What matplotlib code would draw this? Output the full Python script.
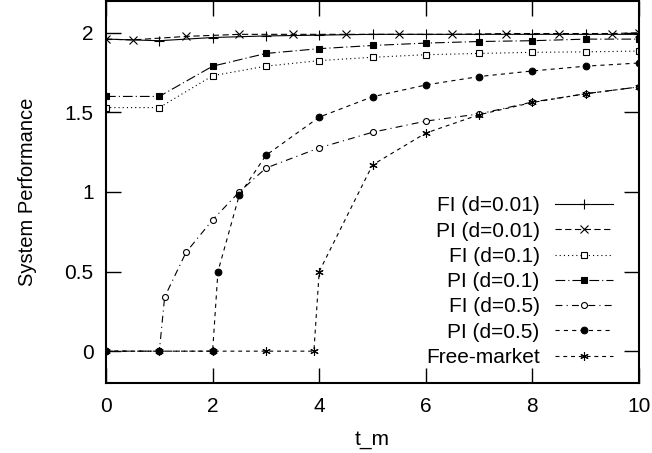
import matplotlib
matplotlib.use("Agg")
import matplotlib.pyplot as plt
from matplotlib.ticker import FormatStrFormatter

plt.rcParams["font.family"] = ["Liberation Sans", "DejaVu Sans"]
plt.rcParams["font.size"] = 15
plt.rcParams["lines.scale_dashes"] = False

# data
fi_001_x = [0, 1, 2, 3, 4, 5, 6, 7, 8, 9, 10]
fi_001_y = [1.96, 1.95, 1.97, 1.98, 1.985, 1.99, 1.99, 1.99, 1.99, 1.99, 1.99]

pi_001_x = [0, 0.5, 1.5, 2.5, 3.5, 4.5, 5.5, 6.5, 7.5, 8.5, 9.5, 10]
pi_001_y = [1.96, 1.955, 1.977, 1.99, 1.99, 1.99, 1.99, 1.99, 1.995, 1.995, 1.995, 2.0]

fi_01_x = [0, 1, 2, 3, 4, 5, 6, 7, 8, 9, 10]
fi_01_y = [1.53, 1.53, 1.73, 1.79, 1.825, 1.846, 1.862, 1.87, 1.877, 1.88, 1.885]

pi_01_x = [0, 1, 2, 3, 4, 5, 6, 7, 8, 9, 10]
pi_01_y = [1.60, 1.60, 1.79, 1.87, 1.90, 1.92, 1.935, 1.945, 1.95, 1.96, 1.96]

fi_05_x = [0, 1, 1.1, 1.5, 2, 2.5, 3, 4, 5, 6, 7, 8, 9, 10]
fi_05_y = [0, 0, 0.34, 0.62, 0.825, 1.0, 1.15, 1.277, 1.375, 1.445, 1.49, 1.565, 1.617, 1.66]

pi_05_x = [0, 1, 2, 2.1, 2.5, 3, 4, 5, 6, 7, 8, 9, 10]
pi_05_y = [0, 0, 0, 0.5, 0.98, 1.23, 1.47, 1.598, 1.672, 1.725, 1.76, 1.79, 1.81]

free_x = [0, 1, 2, 3, 3.9, 4, 5, 6, 7, 8, 9, 10]
free_y = [0, 0, 0, 0, 0, 0.5, 1.17, 1.37, 1.485, 1.562, 1.617, 1.66]

x_ticks = [0, 2, 4, 6, 8, 10]
y_ticks = [0, 0.5, 1, 1.5, 2]

series = [
    ("FI (d=0.01)", fi_001_x, fi_001_y, "-", "+", "none", 7),
    ("PI (d=0.01)", pi_001_x, pi_001_y, (0, (4.5, 2.5)), "x", "none", 5.5),
    ("FI (d=0.1)", fi_01_x, fi_01_y, (0, (0.8, 2.2)), "s", "white", 4.8),
    ("PI (d=0.1)", pi_01_x, pi_01_y, (0, (7, 2.2, 0.8, 2.2)), "s", "black", 5),
    ("FI (d=0.5)", fi_05_x, fi_05_y, (0, (5, 3, 0.8, 3)), "o", "white", 4.3),
    ("PI (d=0.5)", pi_05_x, pi_05_y, (0, (3, 3)), "o", "black", 4.8),
    ("Free-market", free_x, free_y, (0, (2.8, 2.8)), (6, 2, 0), "none", 6),
]

fig = plt.figure(figsize=(6.52, 4.53), dpi=100)
ax = fig.add_axes([0.1626, 0.1545, 0.8175, 0.8435])

for label, xs, ys, ls, mk, mfc, ms in series:
    ax.plot(xs, ys, color="black", linewidth=0.8, linestyle=ls, marker=mk,
            markerfacecolor=mfc, markeredgecolor="black", markeredgewidth=0.8,
            markersize=ms, label=label)

ax.set_xlim(0, 10)
ax.set_ylim(-0.2, 2.2)
ax.set_xticks(x_ticks)
ax.set_yticks(y_ticks)
ax.yaxis.set_major_formatter(FormatStrFormatter("%g"))
ax.tick_params(direction="in", length=11, width=1.0, top=True, right=True,
               labelsize=15)
ax.tick_params(axis="x", pad=10)
ax.tick_params(axis="y", pad=9)
for sp in ax.spines.values():
    sp.set_linewidth(1.5)

ax.set_xlabel("t_m", fontsize=15, labelpad=10)
ax.set_ylabel("System Performance", fontsize=14.5, labelpad=20)

ax.legend(loc="lower right", frameon=False, markerfirst=False, numpoints=1,
          handlelength=2.8, handletextpad=0.72, labelspacing=0.3,
          borderpad=0, borderaxespad=0, fontsize=15,
          bbox_to_anchor=(0.951, 0.042))

fig.savefig("out.png", dpi=100)
